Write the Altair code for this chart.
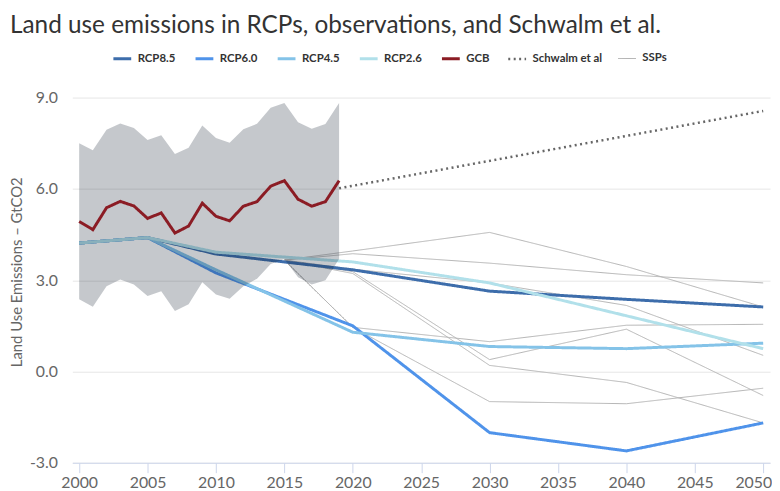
import altair as alt
import pandas as pd

# ---------------- data ----------------
rcp_years = [2000, 2005, 2010, 2020, 2030, 2040, 2050]
rcp85 = [4.22, 4.40, 3.86, 3.34, 2.64, 2.37, 2.12]
rcp60 = [4.22, 4.40, 3.24, 1.50, -2.01, -2.61, -1.69]
rcp45 = [4.22, 4.40, 3.34, 1.29, 0.82, 0.75, 0.93]
rcp26 = [4.22, 4.40, 3.92, 3.60, 2.91, 1.83, 0.75]

gcb_years = list(range(2000, 2020))
gcb = [4.93, 4.66, 5.38, 5.59, 5.44, 5.03, 5.21, 4.55, 4.78, 5.53,
       5.10, 4.95, 5.43, 5.58, 6.09, 6.27, 5.66, 5.43, 5.58, 6.27]
gcb_upper = [7.50, 7.27, 7.94, 8.15, 8.00, 7.61, 7.76, 7.15, 7.35, 8.08,
             7.67, 7.52, 7.96, 8.14, 8.67, 8.82, 8.19, 7.98, 8.13, 8.82]
gcb_lower = [2.37, 2.13, 2.80, 3.02, 2.86, 2.48, 2.64, 1.99, 2.21, 2.93,
             2.53, 2.39, 2.80, 3.05, 3.53, 3.70, 3.10, 2.86, 3.00, 3.70]

schwalm_years = [2019, 2050]
schwalm = [6.02, 8.56]

ssp_years = [2015, 2020, 2030, 2040, 2050]
ssp_a = [3.66, 3.96, 4.57, 3.45, 2.12]
ssp_b = [3.66, 3.87, 3.56, 3.18, 2.91]
ssp_c = [3.66, 3.36, 2.91, 2.17, 0.53]
ssp_d = [3.66, 1.45, 0.98, 1.52, 1.55]
ssp_e = [3.66, 3.28, 0.39, 1.39, -0.79]
ssp_f = [3.66, 3.22, 0.20, -0.36, -1.69]
ssp_g = [3.66, 1.45, -0.99, -1.06, -0.55]

series_order = ["RCP8.5", "RCP6.0", "RCP4.5", "RCP2.6", "GCB", "Schwalm et al", "SSPs"]
series_colors = ["#3d6dab", "#4f93ea", "#84c3e8", "#b1e0ea", "#8b1c24", "#666666", "#b3b3b3"]
series_dashes = [[1, 0], [1, 0], [1, 0], [1, 0], [1, 0], [2, 3.5], [1, 0]]
series_widths = [3, 3, 3, 3, 3, 2.5, 1]

# ---------------- tables ----------------
rows = []
def add(series, line_id, years, values):
    for yr, v in zip(years, values):
        rows.append({"series": series, "line": line_id, "year": yr, "value": v})

for i, vals in enumerate([ssp_a, ssp_b, ssp_c, ssp_d, ssp_e, ssp_f, ssp_g]):
    add("SSPs", f"SSP{i+1}", ssp_years, vals)
add("RCP8.5", "RCP8.5", rcp_years, rcp85)
add("RCP6.0", "RCP6.0", rcp_years, rcp60)
add("RCP4.5", "RCP4.5", rcp_years, rcp45)
add("RCP2.6", "RCP2.6", rcp_years, rcp26)
add("GCB", "GCB", gcb_years, gcb)
add("Schwalm et al", "Schwalm et al", schwalm_years, schwalm)
lines = pd.DataFrame(rows)

band = pd.DataFrame({"year": gcb_years, "lower": gcb_lower, "upper": gcb_upper})

FONT = "Lato"

x_scale = alt.Scale(domain=[1999.5, 2050.5], nice=False, zero=False)
y_scale = alt.Scale(domain=[-3, 9], nice=False, zero=False)
x_axis = alt.Axis(values=list(range(2000, 2051, 5)), format="d", title=None,
                  grid=False, domainColor="#ccd6eb", tickColor="#ccd6eb",
                  tickSize=10, labelFontSize=16, labelColor="#666666",
                  labelFont=FONT, labelPadding=2,
                  labelOffset={"condition": {"test": "datum.value === 2050", "value": -10},
                               "value": 0})
y_axis = alt.Axis(values=[-3, 0, 3, 6, 9],
                  labelExpr="replace(format(datum.value, '.1f'), '\u2212', '-')",
                  title="Land Use Emissions – GtCO2", titleFont=FONT,
                  titleFontSize=15, titleFontWeight="normal", titleColor="#666666",
                  titleX=-56, titleY=176, titleAngle=270, titleAlign="center",
                  titleBaseline="middle",
                  domain=False, ticks=False, gridColor="#e6e6e6",
                  labelFontSize=16, labelColor="#666666", labelFont=FONT,
                  labelPadding=15)

legend = alt.Legend(title=None, orient="none", legendX=40, legendY=-50,
                    direction="horizontal", columns=7, symbolType="stroke",
                    symbolSize=324, labelFont=FONT, labelFontSize=11.5,
                    labelFontWeight="bold", labelColor="#333333",
                    columnPadding=13, labelOffset=5)

color_enc = alt.Color("series:N", scale=alt.Scale(domain=series_order, range=series_colors), legend=legend)
dash_enc = alt.StrokeDash("series:N", scale=alt.Scale(domain=series_order, range=series_dashes), legend=legend)
width_enc = alt.StrokeWidth("series:N", scale=alt.Scale(type="ordinal", domain=series_order, range=series_widths), legend=legend)

def line_layer(name):
    return alt.Chart(lines).transform_filter(
        alt.FieldEqualPredicate(field="series", equal=name)
    ).mark_line().encode(
        x=alt.X("year:Q", scale=x_scale, axis=x_axis),
        y=alt.Y("value:Q", scale=y_scale, axis=y_axis),
        color=color_enc, strokeDash=dash_enc, strokeWidth=width_enc,
        detail="line:N",
    )

band_layer = alt.Chart(band).mark_area(color="#0d1a2b", opacity=0.24).encode(
    x=alt.X("year:Q", scale=x_scale, axis=x_axis),
    y=alt.Y("lower:Q", scale=y_scale, axis=y_axis),
    y2="upper:Q",
)

chart = alt.layer(
    line_layer("SSPs"),
    line_layer("RCP8.5"),
    line_layer("RCP6.0"),
    line_layer("RCP4.5"),
    line_layer("RCP2.6"),
    band_layer,
    line_layer("GCB"),
    line_layer("Schwalm et al"),
).properties(
    width=705, height=369,
    autosize="none",
    padding={"left": 65, "top": 88, "right": 2, "bottom": 27},
    title=alt.TitleParams(text="Land use emissions in RCPs, observations, and Schwalm et al.",
                          anchor="start", frame="group", font=FONT, fontSize=24.6,
                          fontWeight="normal", color="#333333", dx=-63, dy=0, offset=10),
).configure_view(stroke=None)

chart.save("out.html", embed_options={"renderer": "svg", "actions": False})
